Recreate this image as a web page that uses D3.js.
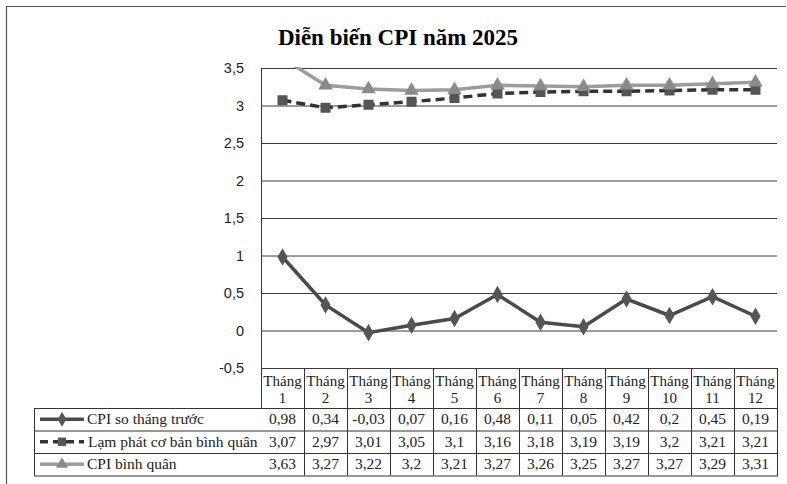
<!DOCTYPE html>
<html>
<head>
<meta charset="utf-8">
<script src="https://cdn.jsdelivr.net/npm/d3@7"></script>
<style>
  body { margin: 0; background: #fff; }
  svg { display: block; }
</style>
</head>
<body>
<svg id="chart" width="787" height="484"></svg>
<script>
// data
var months = ['1', '2', '3', '4', '5', '6', '7', '8', '9', '10', '11', '12'];
var cpiMonthly = [0.98, 0.34, -0.03, 0.07, 0.16, 0.48, 0.11, 0.05, 0.42, 0.2, 0.45, 0.19];
var coreAvg = [3.07, 2.97, 3.01, 3.05, 3.1, 3.16, 3.18, 3.19, 3.19, 3.2, 3.21, 3.21];
var cpiAvg = [3.63, 3.27, 3.22, 3.2, 3.21, 3.27, 3.26, 3.25, 3.27, 3.27, 3.29, 3.31];
var yTicks = [-0.5, 0, 0.5, 1, 1.5, 2, 2.5, 3, 3.5];
var seriesNames = ['CPI so tháng trước', 'Lạm phát cơ bản bình quân', 'CPI bình quân'];

var series = [
  {name: seriesNames[0], values: cpiMonthly, color: '#4a4a4a', marker: '#555', shape: d3.symbolDiamond, size: 90, dash: null},
  {name: seriesNames[1], values: coreAvg, color: '#333', marker: '#555', shape: d3.symbolSquare, size: 100, dash: '9,5'},
  {name: seriesNames[2], values: cpiAvg, color: '#9c9c9c', marker: '#8a8a8a', shape: d3.symbolTriangle, size: 90, dash: null}
];

var svg = d3.select('#chart');
var plot = {left: 261, right: 777, top: 68, bottom: 368};
var serif = '"Liberation Serif", "Times New Roman", serif';
var sans = '"Liberation Sans", Arial, sans-serif';

// comma decimal like the source
var fmt = function(v) { return String(v).replace('.', ','); };

// outer frame
svg.append('path')
  .attr('d', 'M6.5,484 V6.5 H786')
  .attr('fill', 'none').attr('stroke', '#555').attr('stroke-width', 1.2);

svg.append('text')
  .attr('x', 398).attr('y', 45)
  .attr('text-anchor', 'middle')
  .attr('font-family', serif).attr('font-weight', 'bold').attr('font-size', '23px')
  .text('Diễn biến CPI năm 2025');

var x = d3.scaleBand().domain(months).range([plot.left, plot.right]);
var y = d3.scaleLinear().domain([-0.5, 3.5]).range([plot.bottom, plot.top]);

// gridlines + y labels
var yAxis = d3.axisLeft(y)
  .tickValues(yTicks)
  .tickSize(-(plot.right - plot.left))
  .tickPadding(17)
  .tickFormat(fmt);

var gy = svg.append('g')
  .attr('transform', 'translate(' + plot.left + ',0)')
  .call(yAxis);
gy.select('.domain').remove();
gy.selectAll('.tick line').attr('stroke', '#3a3a3a').attr('stroke-width', 1);
gy.selectAll('.tick text')
  .attr('font-family', sans).attr('font-size', '14.5px').attr('fill', '#222');

// vertical axis line, carried down through the header row
svg.append('line')
  .attr('x1', plot.left + 0.5).attr('x2', plot.left + 0.5)
  .attr('y1', plot.top).attr('y2', 408)
  .attr('stroke', '#3a3a3a');

svg.append('clipPath').attr('id', 'clip')
  .append('rect')
  .attr('x', plot.left).attr('y', plot.top - 1)
  .attr('width', plot.right - plot.left).attr('height', plot.bottom - plot.top + 6);

var g = svg.append('g').attr('clip-path', 'url(#clip)');

var line = d3.line()
  .x(function(d, i) { return x(months[i]) + x.bandwidth() / 2; })
  .y(function(d) { return y(d); });

series.forEach(function(s) {
  g.append('path')
    .datum(s.values)
    .attr('d', line)
    .attr('fill', 'none')
    .attr('stroke', s.color)
    .attr('stroke-width', 3.5)
    .attr('stroke-dasharray', s.dash);

  g.selectAll(null)
    .data(s.values.map(function(v, i) { return [i, v]; }).filter(function(d) { return d[1] <= 3.5; }))
    .enter().append('path')
    .attr('d', d3.symbol().type(s.shape).size(s.size))
    .attr('transform', function(d) {
      return 'translate(' + (x(months[d[0]]) + x.bandwidth() / 2) + ',' + y(d[1]) + ')';
    })
    .attr('fill', s.marker);
});

// data table
var headTop = plot.bottom, rowTop = 408, rowH = 22.5;
var tableBottom = rowTop + rowH * series.length;
var boxLeft = 34;
var tc = '#333';

// header cells
months.forEach(function(m) {
  var cx = x(m) + x.bandwidth() / 2;
  var t = svg.append('text')
    .attr('text-anchor', 'middle')
    .attr('font-family', serif).attr('font-size', '15px').attr('fill', '#222');
  t.append('tspan').attr('x', cx).attr('y', 386).text('Tháng');
  t.append('tspan').attr('x', cx).attr('y', 403).text(m);
});

// column lines (header + body)
months.forEach(function(m) {
  svg.append('line')
    .attr('x1', x(m) + x.bandwidth() + 0.5).attr('x2', x(m) + x.bandwidth() + 0.5)
    .attr('y1', headTop).attr('y2', tableBottom)
    .attr('stroke', tc);
});

// row lines
d3.range(series.length + 1).forEach(function(i) {
  svg.append('line')
    .attr('x1', boxLeft).attr('x2', plot.right + 1)
    .attr('y1', rowTop + i * rowH + 0.5).attr('y2', rowTop + i * rowH + 0.5)
    .attr('stroke', tc);
});
svg.append('line')
  .attr('x1', boxLeft + 0.5).attr('x2', boxLeft + 0.5)
  .attr('y1', rowTop).attr('y2', tableBottom)
  .attr('stroke', tc);

series.forEach(function(s, r) {
  var cy = rowTop + r * rowH + rowH / 2;

  // legend key
  svg.append('line')
    .attr('x1', 40).attr('x2', 84).attr('y1', cy).attr('y2', cy)
    .attr('stroke', s.color).attr('stroke-width', 3.5)
    .attr('stroke-dasharray', s.dash ? '8,5' : null);
  svg.append('path')
    .attr('d', d3.symbol().type(s.shape).size(s.size * 0.7))
    .attr('transform', 'translate(62,' + cy + ')')
    .attr('fill', s.marker);

  svg.append('text')
    .attr('x', s.dash ? 88 : 87).attr('y', cy + 5)
    .attr('font-family', serif).attr('font-size', '15.5px').attr('fill', '#222')
    .text(s.name);

  s.values.forEach(function(v, i) {
    svg.append('text')
      .attr('x', x(months[i]) + x.bandwidth() / 2).attr('y', cy + 5)
      .attr('text-anchor', 'middle')
      .attr('font-family', serif).attr('font-size', '15.5px').attr('fill', '#222')
      .text(fmt(v));
  });
});
</script>
</body>
</html>
